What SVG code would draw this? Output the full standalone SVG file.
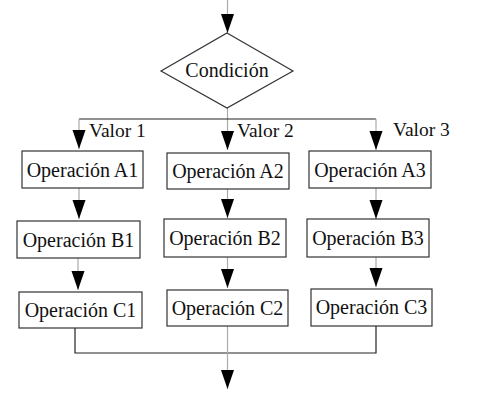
<svg xmlns="http://www.w3.org/2000/svg" xmlns:xlink="http://www.w3.org/1999/xlink" width="477" height="401" viewBox="0 0 477 401">
<style>
.box{fill:#fff;stroke:#333;stroke-width:1.2}
.node-text{font-size:20px;fill:#111;text-anchor:middle}
.lbl{font-size:19.5px;fill:#111}
.g{stroke:#aaa;stroke-width:1.2;fill:none}
.k{stroke:#222;stroke-width:1.2;fill:none}
</style>
<defs>
<polygon id="ah" points="-6.5,-19 6.5,-19 0,0" fill="#000"/>
</defs>
<rect width="477" height="401" fill="#fff"/>
<g id="connectors">
<line class="g" x1="227.5" y1="0" x2="227.5" y2="33"/>
<use xlink:href="#ah" x="227.5" y="33"/>
<line class="g" x1="227.5" y1="108" x2="227.5" y2="150"/>
<line class="k" x1="79" y1="119" x2="376" y2="119"/>
<line class="g" x1="79" y1="119" x2="79" y2="149"/>
<line class="g" x1="376" y1="119" x2="376" y2="150"/>
<use xlink:href="#ah" x="79" y="149"/>
<use xlink:href="#ah" x="227.5" y="150"/>
<use xlink:href="#ah" x="376" y="150"/>
<line class="g" x1="79" y1="188" x2="79" y2="219"/>
<line class="g" x1="227.5" y1="189" x2="227.5" y2="218"/>
<line class="g" x1="376" y1="188" x2="376" y2="219"/>
<use xlink:href="#ah" x="79" y="219"/>
<use xlink:href="#ah" x="227.5" y="218"/>
<use xlink:href="#ah" x="376" y="219"/>
<line class="g" x1="78" y1="258" x2="78" y2="290"/>
<line class="g" x1="227.5" y1="257" x2="227.5" y2="288"/>
<line class="g" x1="376" y1="257" x2="376" y2="287"/>
<use xlink:href="#ah" x="78" y="290"/>
<use xlink:href="#ah" x="227.5" y="288"/>
<use xlink:href="#ah" x="376" y="287"/>
<polyline class="k" points="75,328 75,353 376,353 376,326"/>
<line class="g" x1="227.5" y1="326" x2="227.5" y2="389"/>
<use xlink:href="#ah" x="227.5" y="389"/>
</g>
<g font-family="Liberation Serif, DejaVu Serif, serif">
<g id="condicion">
<polygon class="box" points="227,33 293,71 227,108 161,71"/>
<text class="node-text" x="227" y="77">Condición</text>
</g>
<g id="labels">
<text class="lbl" x="89" y="137">Valor 1</text>
<text class="lbl" x="237" y="137">Valor 2</text>
<text class="lbl" x="393" y="136">Valor 3</text>
</g>
<g id="opA1"><rect class="box" x="22" y="151" width="121" height="37"/><text class="node-text" x="82.5" y="177">Operación A1</text></g>
<g id="opA2"><rect class="box" x="167" y="153" width="122" height="36"/><text class="node-text" x="228" y="178">Operación A2</text></g>
<g id="opA3"><rect class="box" x="309" y="151" width="122" height="37"/><text class="node-text" x="370" y="177">Operación A3</text></g>
<g id="opB1"><rect class="box" x="17" y="221" width="123" height="37"/><text class="node-text" x="78.5" y="247">Operación B1</text></g>
<g id="opB2"><rect class="box" x="164" y="219" width="122" height="38"/><text class="node-text" x="225" y="245">Operación B2</text></g>
<g id="opB3"><rect class="box" x="307" y="219" width="122" height="38"/><text class="node-text" x="368" y="245">Operación B3</text></g>
<g id="opC1"><rect class="box" x="19" y="292" width="123" height="36"/><text class="node-text" x="80.5" y="317">Operación C1</text></g>
<g id="opC2"><rect class="box" x="167" y="290" width="121" height="36"/><text class="node-text" x="227.5" y="315">Operación C2</text></g>
<g id="opC3"><rect class="box" x="311" y="289" width="121" height="37"/><text class="node-text" x="371.5" y="314">Operación C3</text></g>
</g>
</svg>
